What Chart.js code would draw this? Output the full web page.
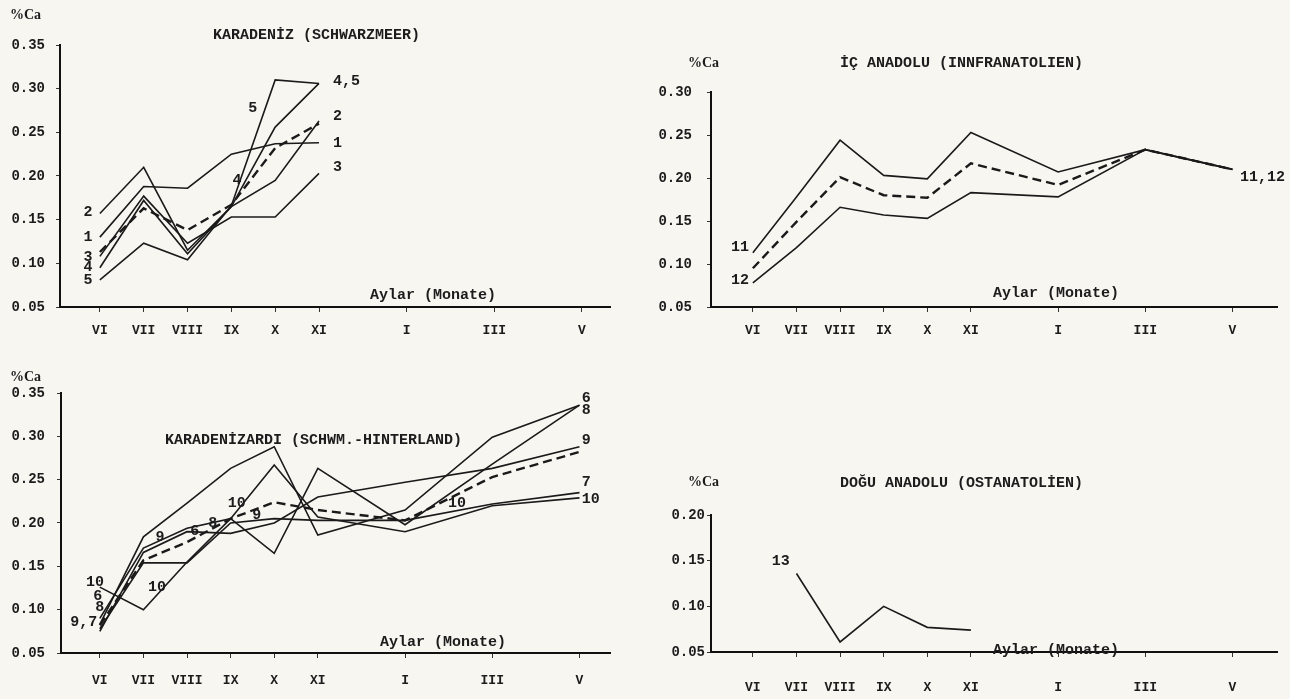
<!DOCTYPE html>
<html>
<head>
<meta charset="utf-8">
<script src="https://cdn.jsdelivr.net/npm/chart.js@4.4.1/dist/chart.umd.min.js"></script>
<style>
body { margin: 0; background: #f7f6f1; }
#page { position: relative; width: 1290px; height: 699px; overflow: hidden; font-family: 'Liberation Mono', monospace; color: #1c1c1c; }
.box { position: absolute; }
.txt { position: absolute; white-space: nowrap; line-height: 1; transform: translateY(-50%); }
.title { font-size: 15px; font-weight: bold; }
.ylab { font-size: 14px; font-family: 'Liberation Serif', serif; font-weight: bold; }
.xlab { font-size: 15px; font-weight: bold; }
</style>
</head>
<body>
<div id="page">
  <div class="box" style="left:0;top:0;width:640px;height:345px"><canvas id="c1"></canvas></div>
  <div class="box" style="left:650px;top:40px;width:640px;height:305px"><canvas id="c2"></canvas></div>
  <div class="box" style="left:0;top:350px;width:640px;height:349px"><canvas id="c3"></canvas></div>
  <div class="box" style="left:650px;top:350px;width:640px;height:349px"><canvas id="c4"></canvas></div>

  <span class="txt ylab" style="left:10px;top:15px">%Ca</span>
  <span class="txt title" style="left:213px;top:35px">KARADENİZ (SCHWARZMEER)</span>
  <span class="txt xlab" style="left:370px;top:295px">Aylar (Monate)</span>

  <span class="txt ylab" style="left:688px;top:63px">%Ca</span>
  <span class="txt title" style="left:840px;top:63px">İÇ ANADOLU (INNFRANATOLIEN)</span>
  <span class="txt xlab" style="left:993px;top:293px">Aylar (Monate)</span>

  <span class="txt ylab" style="left:10px;top:377px">%Ca</span>
  <span class="txt title" style="left:165px;top:440px">KARADENİZARDI (SCHWM.-HINTERLAND)</span>
  <span class="txt xlab" style="left:380px;top:642px">Aylar (Monate)</span>

  <span class="txt ylab" style="left:688px;top:482px">%Ca</span>
  <span class="txt title" style="left:840px;top:483px">DOĞU ANADOLU (OSTANATOLİEN)</span>
  <span class="txt xlab" style="left:993px;top:650px">Aylar (Monate)</span>
</div>
<script>
// months on the axis (position = months after June)
const months = ['VI', 'VII', 'VIII', 'IX', 'X', 'XI', 'I', 'III', 'V'];
const monthPos = [0, 1, 2, 3, 4, 5, 7, 9, 11];

// Karadeniz (VI - XI)
const kd1 = [0.130, 0.188, 0.186, 0.225, 0.237, 0.238];
const kd2 = [0.157, 0.210, 0.115, 0.165, 0.195, 0.263];
const kd3 = [0.108, 0.177, 0.123, 0.153, 0.153, 0.203];
const kd4 = [0.095, 0.172, 0.111, 0.165, 0.256, 0.306];
const kd5 = [0.081, 0.123, 0.104, 0.166, 0.310, 0.306];
const kdMean = [0.113, 0.163, 0.138, 0.167, 0.232, 0.260];

// Ic Anadolu
const ia11 = [0.113, 0.178, 0.244, 0.203, 0.199, 0.253, 0.207, 0.233, 0.210];
const iaMean = [0.095, 0.149, 0.201, 0.180, 0.177, 0.217, 0.192, 0.233, 0.210];
const ia12 = [0.078, 0.119, 0.166, 0.157, 0.153, 0.183, 0.178, 0.233, 0.210];

// Karadenizardi
const kh6 = [0.090, 0.171, 0.194, 0.205, 0.165, 0.263, 0.198, 0.268, 0.336];
const kh7 = [0.078, 0.154, 0.154, 0.200, 0.205, 0.203, 0.203, 0.222, 0.235];
const kh8 = [0.083, 0.184, 0.223, 0.263, 0.288, 0.186, 0.215, 0.299, 0.336];
const kh9 = [0.075, 0.166, 0.190, 0.188, 0.200, 0.230, 0.247, 0.263, 0.288];
const kh10 = [0.126, 0.100, 0.155, 0.205, 0.267, 0.207, 0.190, 0.220, 0.229];
const khMean = [0.082, 0.157, 0.178, 0.205, 0.224, 0.215, 0.203, 0.253, 0.282];

// Dogu Anadolu
const da13 = [null, 0.136, 0.061, 0.100, 0.077, 0.074];

function pts(arr) {
  return arr.map(function (v, i) { return { x: monthPos[i], y: v }; });
}

function line(arr, dashed) {
  return {
    data: pts(arr),
    borderColor: '#1a1a1a',
    borderWidth: dashed ? 2.4 : 1.6,
    borderDash: dashed ? [9, 5] : [],
    pointRadius: 0,
    tension: 0,
    spanGaps: false,
    fill: false
  };
}

function labelPlugin(items) {
  return {
    id: 'seriesLabels',
    afterDatasetsDraw(chart) {
      const ctx = chart.ctx;
      const x = chart.scales.x, y = chart.scales.y;
      ctx.save();
      ctx.font = 'bold 15px "Liberation Mono"';
      ctx.fillStyle = '#1c1c1c';
      ctx.textBaseline = 'middle';
      items.forEach(function (it) {
        ctx.textAlign = it.a || 'center';
        ctx.fillText(it.t, x.getPixelForValue(it.m), y.getPixelForValue(it.v));
      });
      ctx.restore();
    }
  };
}

function makeChart(id, sets, cfg, labels) {
  new Chart(document.getElementById(id), {
    type: 'line',
    data: { datasets: sets },
    options: {
      responsive: true,
      maintainAspectRatio: false,
      animation: false,
      layout: { padding: { left: 0, right: cfg.right, top: cfg.top, bottom: 0 } },
      plugins: { legend: { display: false }, tooltip: { enabled: false } },
      scales: {
        x: {
          type: 'linear',
          min: cfg.xmin,
          max: cfg.xmax,
          afterBuildTicks: function (s) { s.ticks = monthPos.map(function (v) { return { value: v }; }); },
          afterFit: function (s) { s.height = cfg.xh; },
          ticks: {
            autoSkip: false,
            maxRotation: 0,
            padding: cfg.xpad,
            color: '#1c1c1c',
            font: { family: 'Liberation Mono', size: 13, weight: 'bold' },
            callback: function (v) { return months[monthPos.indexOf(v)]; }
          },
          grid: { drawOnChartArea: false, drawTicks: true, tickLength: 5, color: '#333' },
          border: { display: true, color: '#111', width: 2 }
        },
        y: {
          min: 0.05,
          max: cfg.ymax,
          afterFit: function (s) { s.width = cfg.yw; },
          ticks: {
            stepSize: 0.05,
            padding: cfg.ypad,
            color: '#1c1c1c',
            font: { family: 'Liberation Mono', size: 14, weight: 'bold' },
            callback: function (v) { return v.toFixed(2); }
          },
          grid: { drawOnChartArea: false, drawTicks: true, tickLength: 4, color: '#333' },
          border: { display: true, color: '#111', width: 2 }
        }
      }
    },
    plugins: [labelPlugin(labels)]
  });
}

makeChart('c1',
  [line(kd1), line(kd2), line(kd3), line(kd4), line(kd5), line(kdMean, true)],
  { right: 30, top: 45, xh: 38, yw: 60, xmin: -0.91, xmax: 11.64, ymax: 0.35, xpad: 11, ypad: 11 },
  [
    { t: '2', m: -0.27, v: 0.158 }, { t: '1', m: -0.27, v: 0.130 }, { t: '3', m: -0.27, v: 0.107 },
    { t: '4', m: -0.27, v: 0.095 }, { t: '5', m: -0.27, v: 0.081 },
    { t: '4,5', m: 5.32, v: 0.308, a: 'left' }, { t: '2', m: 5.32, v: 0.268, a: 'left' },
    { t: '1', m: 5.32, v: 0.238, a: 'left' }, { t: '3', m: 5.32, v: 0.210, a: 'left' },
    { t: '5', m: 3.49, v: 0.278 }, { t: '4', m: 3.13, v: 0.195 }
  ]);

makeChart('c2',
  [line(ia11), line(ia12), line(iaMean, true)],
  { right: 13, top: 52, xh: 38, yw: 61, xmin: -0.96, xmax: 12.02, ymax: 0.30, xpad: 11, ypad: 15 },
  [
    { t: '11', m: -0.09, v: 0.119, a: 'right' }, { t: '12', m: -0.09, v: 0.081, a: 'right' },
    { t: '11,12', m: 11.17, v: 0.201, a: 'left' }
  ]);

makeChart('c3',
  [line(kh6), line(kh7), line(kh8), line(kh9), line(kh10), line(khMean, true)],
  { right: 30, top: 43, xh: 46, yw: 61, xmin: -0.89, xmax: 11.7, ymax: 0.35, xpad: 15, ypad: 12 },
  [
    { t: '10', m: -0.11, v: 0.132 }, { t: '6', m: -0.05, v: 0.115 }, { t: '8', m: 0, v: 0.103 },
    { t: '9,7', m: -0.37, v: 0.086 },
    { t: '10', m: 1.31, v: 0.126 }, { t: '9', m: 1.38, v: 0.184 }, { t: '6', m: 2.18, v: 0.19 },
    { t: '8', m: 2.59, v: 0.2 }, { t: '10', m: 3.14, v: 0.223 }, { t: '9', m: 3.6, v: 0.209 },
    { t: '10', m: 8.19, v: 0.223 },
    { t: '6', m: 11.05, v: 0.344, a: 'left' }, { t: '8', m: 11.05, v: 0.330, a: 'left' },
    { t: '9', m: 11.05, v: 0.296, a: 'left' }, { t: '7', m: 11.05, v: 0.247, a: 'left' },
    { t: '10', m: 11.05, v: 0.228, a: 'left' }
  ]);

makeChart('c4',
  [line(da13)],
  { right: 13, top: 165, xh: 47, yw: 61, xmin: -0.96, xmax: 12.02, ymax: 0.20, xpad: 23, ypad: 2 },
  [
    { t: '13', m: 0.64, v: 0.149 }
  ]);
</script>
</body>
</html>
